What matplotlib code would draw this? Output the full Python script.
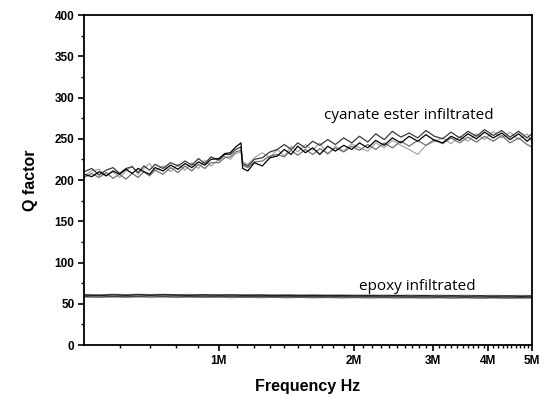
import matplotlib
matplotlib.use("Agg")
import matplotlib.pyplot as plt
from matplotlib.ticker import FixedLocator, NullFormatter

# Frequency (MHz) for cyanate ester curves
freq_ce = [0.50, 0.52, 0.54, 0.56, 0.58, 0.60, 0.62, 0.64, 0.66, 0.68, 0.70, 0.72,
           0.75, 0.78, 0.81, 0.84, 0.87, 0.90, 0.93, 0.96, 1.00, 1.03, 1.06, 1.09,
           1.12, 1.13, 1.16, 1.20, 1.25, 1.30, 1.35, 1.40, 1.45, 1.50, 1.56, 1.62,
           1.68, 1.75, 1.82, 1.90, 1.98, 2.06, 2.15, 2.24, 2.34, 2.44, 2.55, 2.66,
           2.78, 2.90, 3.03, 3.16, 3.30, 3.45, 3.60, 3.76, 3.92, 4.10, 4.28, 4.47,
           4.67, 4.88, 5.00]

ce_a = [207, 204, 210, 205, 211, 207, 213, 208, 214, 210, 207, 215,
        211, 218, 213, 220, 215, 222, 218, 225, 226, 232, 233, 240,
        245, 214, 211, 221, 217, 227, 229, 237, 231, 241, 233, 239,
        231, 241, 235, 242, 237, 245, 239, 248, 242, 251, 245, 253,
        247, 255, 248, 245, 253, 248, 256, 250, 258, 251, 257, 249,
        256, 247, 252]
ce_b = [210, 214, 206, 212, 215, 208, 214, 216, 209, 217, 212, 219,
        214, 221, 217, 223, 218, 226, 220, 228, 224, 231, 231, 237,
        240, 220, 217, 225, 227, 234, 237, 243, 237, 245, 239, 247,
        242, 249, 243, 251, 245, 253, 246, 256, 249, 259, 252, 257,
        251, 260, 253, 250, 258, 251, 259, 253, 261, 254, 260, 252,
        259, 251, 256]
ce_c = [203, 208, 203, 209, 202, 207, 201, 208, 203, 210, 205, 212,
        207, 215, 209, 217, 211, 219, 214, 221, 221, 227, 228, 234,
        236, 218, 215, 222, 223, 229, 231, 228, 236, 230, 237, 231,
        238, 232, 239, 234, 241, 236, 243, 237, 245, 239, 247, 241,
        248, 242, 249, 244, 251, 245, 252, 246, 253, 247, 254, 245,
        251, 243, 240]
ce_d = [205, 211, 213, 205, 210, 203, 211, 217, 207, 214, 220, 211,
        217, 210, 219, 212, 221, 214, 224, 217, 225, 229, 225, 232,
        234, 222, 219, 227, 233, 227, 237, 229, 241, 234, 243, 236,
        245, 231, 241, 235, 244, 239, 235, 245, 239, 248, 242, 237,
        231, 242, 247, 251, 244, 253, 247, 256, 249, 259, 251, 258,
        249, 256, 246]

# Frequency (MHz) for epoxy curves
freq_ep = [0.50, 0.54, 0.58, 0.62, 0.66, 0.70, 0.75, 0.80, 0.86, 0.92, 1.00, 1.07,
           1.15, 1.23, 1.32, 1.42, 1.52, 1.63, 1.75, 1.88, 2.02, 2.17, 2.33, 2.50,
           2.68, 2.88, 3.09, 3.32, 3.56, 3.82, 4.10, 4.40, 4.72, 5.00]
ep_a = [60.5, 60.1, 60.8, 60.3, 60.9, 60.4, 61.0, 60.6, 60.2, 60.8, 60.3, 60.7,
        60.1, 60.5, 59.9, 60.3, 59.8, 60.2, 59.7, 60.1, 59.6, 60.0, 59.5, 59.9,
        59.4, 59.8, 59.3, 59.7, 59.2, 59.6, 59.1, 59.5, 59.0, 59.4]
ep_b = [59.0, 59.5, 58.8, 59.3, 58.9, 59.6, 59.1, 59.4, 58.8, 59.2, 58.7, 59.1,
        58.6, 59.0, 58.5, 58.9, 58.4, 58.8, 58.3, 58.7, 58.2, 58.6, 58.1, 58.5,
        58.0, 58.4, 57.9, 58.3, 57.8, 58.2, 57.7, 58.1, 57.6, 58.0]
ep_c = [58.2, 57.8, 58.4, 57.9, 58.5, 58.0, 58.3, 57.8, 58.2, 57.7, 58.1, 57.6,
        58.0, 57.5, 57.9, 57.4, 57.8, 57.3, 57.7, 57.2, 57.6, 57.1, 57.5, 57.0,
        57.4, 56.9, 57.3, 56.8, 57.2, 56.7, 57.1, 56.6, 57.0, 56.8]
ep_d = [61.2, 60.8, 61.4, 61.0, 61.5, 61.1, 61.3, 60.9, 61.2, 60.8, 61.1, 60.7,
        61.0, 60.6, 60.9, 60.5, 60.8, 60.4, 60.7, 60.3, 60.6, 60.2, 60.5, 60.1,
        60.4, 60.0, 60.3, 59.9, 60.2, 59.8, 60.1, 59.7, 60.0, 59.8]

x_tick_vals = [1, 2, 3, 4, 5]
x_tick_labels = ["1M", "2M", "3M", "4M", "5M"]
y_tick_vals = [0, 50, 100, 150, 200, 250, 300, 350, 400]

plt.rcParams['font.family'] = ['Liberation Sans', 'DejaVu Sans']

fig = plt.figure(figsize=(5.5, 4.0), dpi=100)
ax = fig.add_axes([0.153, 0.1375, 0.814, 0.825])

ce_colors = ["#000000", "#3a3a3a", "#707070", "#a8a8a8"]
for ys, c in zip([ce_d, ce_c, ce_b, ce_a], ce_colors[::-1]):
    ax.plot(freq_ce, ys, color=c, lw=0.9)

ep_colors = ["#222222", "#444444", "#777777", "#999999"]
for ys, c in zip([ep_d, ep_c, ep_b, ep_a], ep_colors[::-1]):
    ax.plot(freq_ep, ys, color=c, lw=1.0)

ax.set_xscale('log')
ax.set_xlim(0.5, 5.0)
ax.set_ylim(0, 400)

ax.xaxis.set_major_locator(FixedLocator(x_tick_vals))
ax.set_xticklabels(x_tick_labels)
minor_x = [v / 10 for v in range(6, 10)] + [v / 10 for v in range(11, 50) if v % 10 != 0]
ax.xaxis.set_minor_locator(FixedLocator(minor_x))
ax.xaxis.set_minor_formatter(NullFormatter())

ax.set_yticks(y_tick_vals)
ax.yaxis.set_minor_locator(FixedLocator([25 + 50 * i for i in range(8)]))

for lab in ax.get_xticklabels() + ax.get_yticklabels():
    lab.set_fontweight('bold')
    lab.set_fontsize(8.5)

ax.tick_params(axis='both', which='major', direction='out', length=4, width=1.2, pad=3)
ax.tick_params(axis='both', which='minor', direction='out', length=2.5, width=1.0)
for s in ax.spines.values():
    s.set_linewidth(1.3)

ax.set_xlabel("Frequency Hz", fontsize=11.5, fontweight='bold', labelpad=9)
ax.set_ylabel("Q factor", fontsize=11.5, fontweight='bold', labelpad=12)

ax.text(2.66, 278, "cyanate ester infiltrated", fontsize=11, ha='center', va='center',
        family=['Open Sans', 'DejaVu Sans'])
ax.text(2.77, 71, "epoxy infiltrated", fontsize=11, ha='center', va='center',
        family=['Open Sans', 'DejaVu Sans'])

fig.savefig("out.png", dpi=100)
